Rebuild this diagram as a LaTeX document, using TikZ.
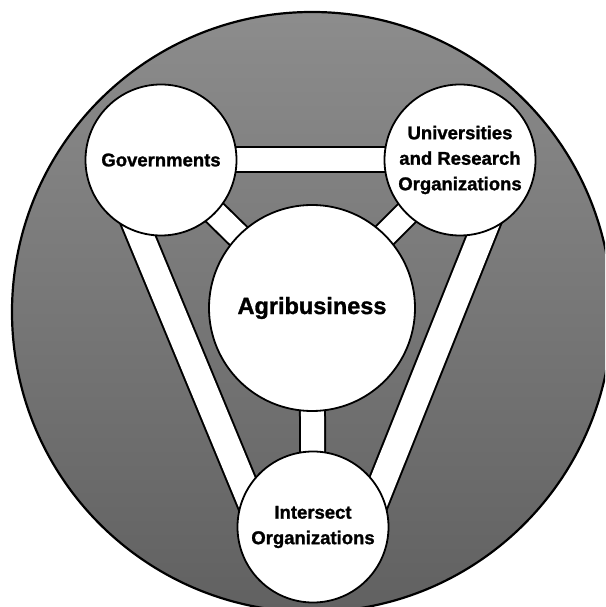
\documentclass[tikz,border=0pt]{standalone}
\usepackage{fontspec}
\setmainfont[BoldFeatures={FakeBold=1.3}]{Liberation Sans}
\usetikzlibrary{calc}
\usetikzlibrary{backgrounds}

\begin{document}
\begin{tikzpicture} [x=1pt, y=1pt,
  blob/.style={circle, draw=black, line width=1.8pt, fill=white, inner sep=0pt,
    minimum size=151pt, align=center, font=\bfseries\fontsize{18.5}{25.5}\selectfont},
  hub/.style={blob, minimum size=206pt, font=\bfseries\fontsize{23.5}{28}\selectfont},
  barout/.style={black, line width=27pt},
  barin/.style={white, line width=23pt},
  longout/.style={black, line width=30pt},
  longin/.style={white, line width=26pt}]
\useasboundingbox (0,0) rectangle (605,607);
\node[blob] (gov) at (161,447) {Governments};
\node[blob] (univ) at (460,447) {Universities\\and Research\\Organizations};
\node[hub] (agri) at (312,299) {Agribusiness};
\node[blob] (inter) at (313,80) {Intersect\\Organizations};
\begin{scope}[on background layer]
\begin{scope}
\clip (0,0) rectangle (605,607);
\shade[top color=black!45, bottom color=black!62] (312,295) circle (300);
\draw[black, line width=2.2pt] (312,295) circle (300);
\end{scope}
\foreach \a/\b in {gov/univ, gov/agri, univ/agri, agri/inter} {
 \draw[barout] (\a.center) -- (\b.center);
 \draw[barin] (\a.center) -- (\b.center);
}
\foreach \a/\s in {gov/-1, univ/1} {
 \draw[longout] ($(\a.center)!48pt!\s*90:(inter.center)$) -- ($(inter.center)!48pt!-\s*90:(\a.center)$);
 \draw[longin] ($(\a.center)!48pt!\s*90:(inter.center)$) -- ($(inter.center)!48pt!-\s*90:(\a.center)$);
}
\end{scope}
\end{tikzpicture}
\end{document}
